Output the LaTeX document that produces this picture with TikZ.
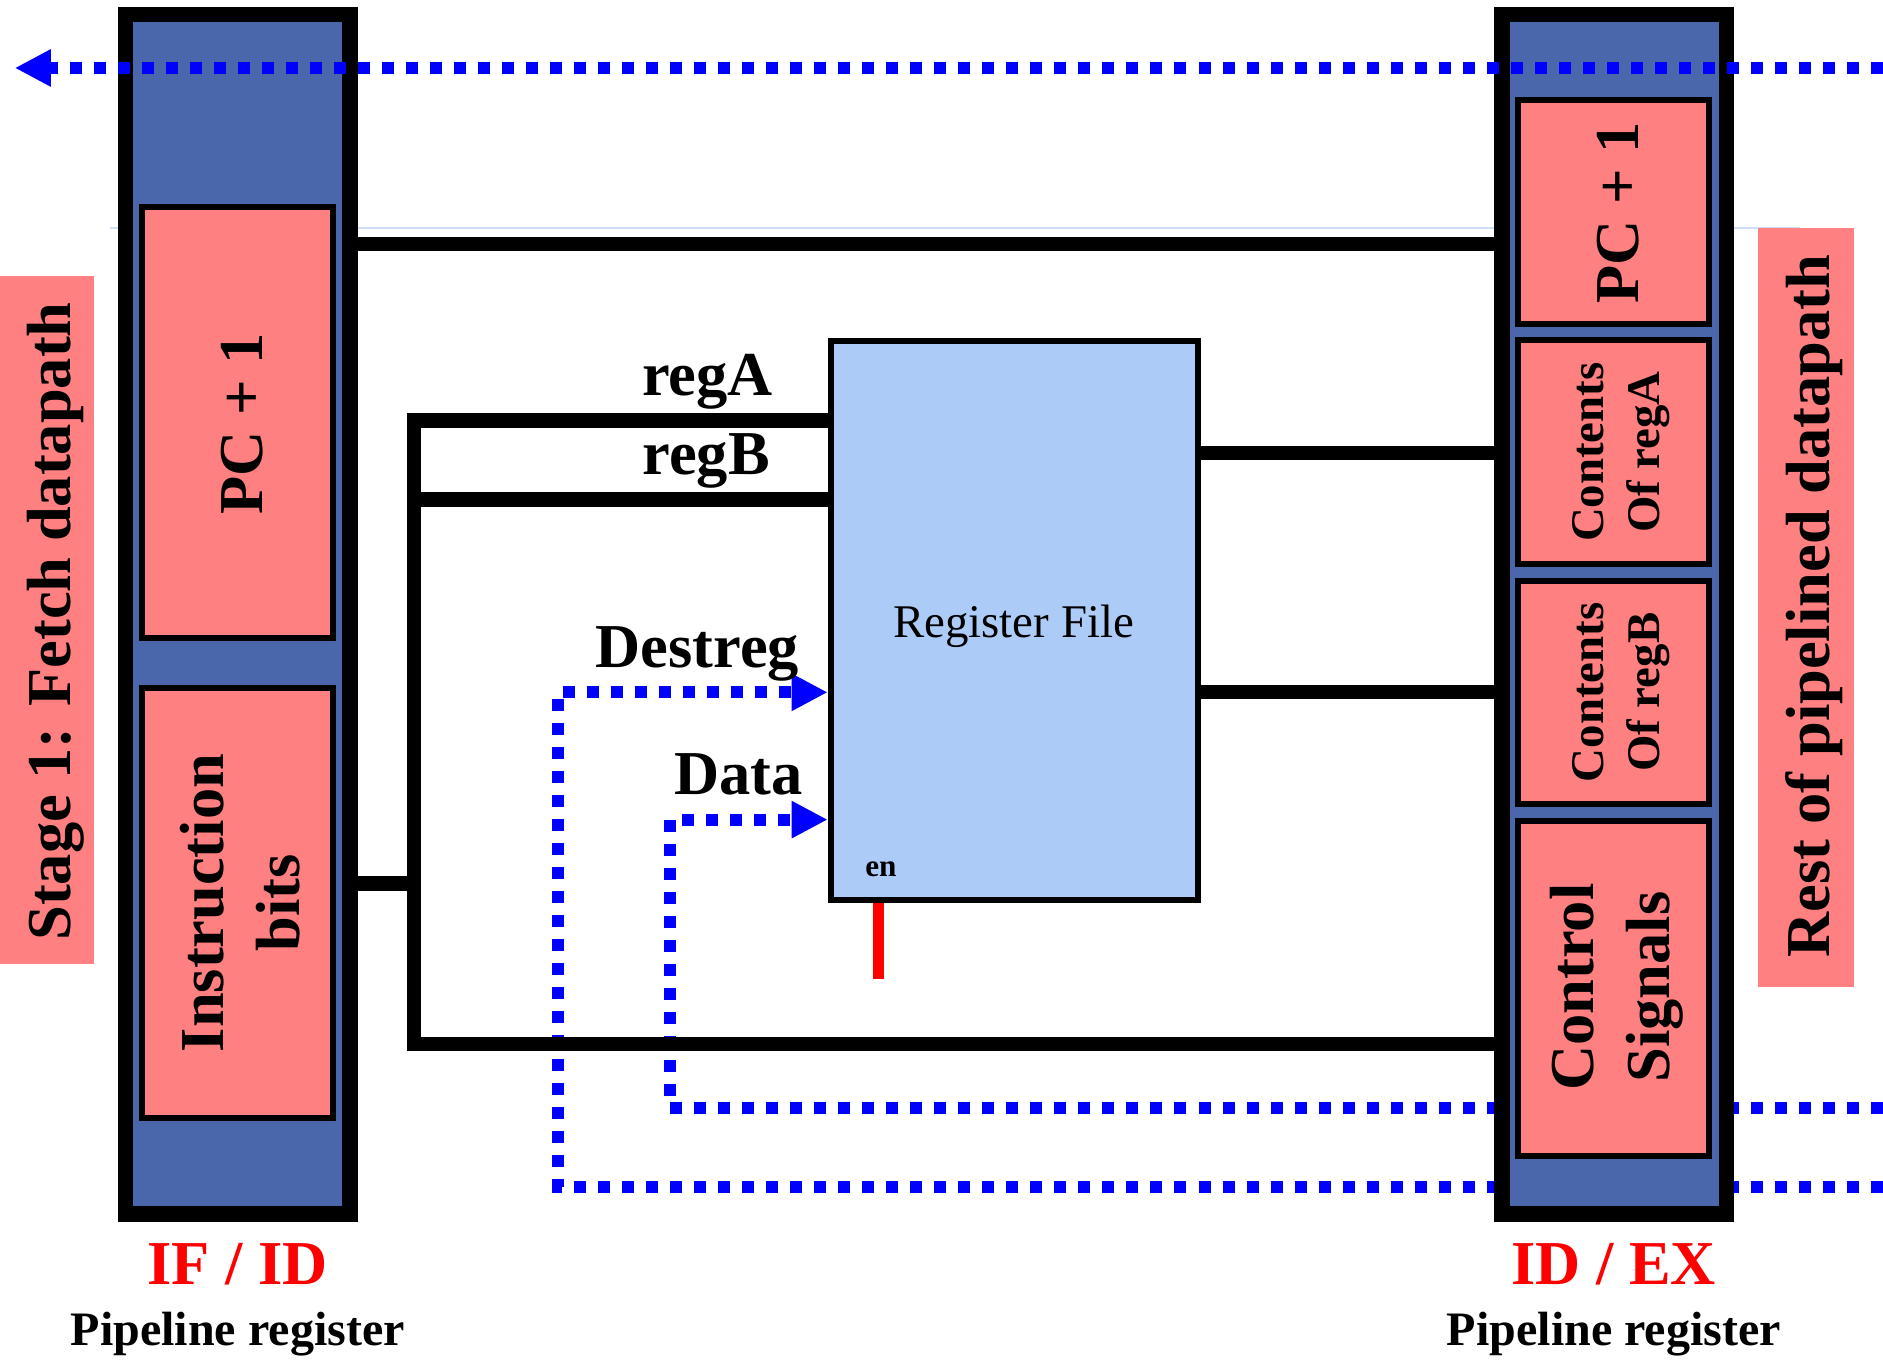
\documentclass[tikz,border=0pt]{standalone}
\usepackage{fontspec}
\setmainfont{Liberation Serif}
\usetikzlibrary{arrows.meta}
\definecolor{regblue}{RGB}{74,103,172}
\definecolor{pinkbox}{RGB}{255,128,128}
\definecolor{rfblue}{RGB}{173,203,247}
\definecolor{faintblue}{RGB}{205,222,245}
\pgfdeclarelayer{background}
\pgfsetlayers{background,main}
\begin{document}
\begin{tikzpicture}[x=0.5pt,y=-0.5pt,
  pipereg/.style={draw=black, fill=regblue, line width=6.5pt, minimum width=93.5pt, minimum height=499.5pt, inner sep=0pt},
  field/.style={draw=black, fill=pinkbox, line width=2.5pt, inner sep=0pt},
  sidebox/.style={fill=pinkbox, inner sep=0pt},
  regfile/.style={draw=black, fill=rfblue, line width=2.5pt, minimum width=152.85pt, minimum height=232.5pt, inner sep=0pt},
  wire/.style={draw=black, line width=6pt},
  dotwire/.style={draw=blue, line width=5pt, dash pattern=on 5pt off 5pt},
  tip/.style={-{Triangle[length=15pt,width=14.5pt]}},
  big/.style={inner sep=0pt, font=\fontsize{26pt}{31.5pt}\selectfont\bfseries},
  mid/.style={inner sep=0pt, font=\fontsize{20pt}{24pt}\selectfont\bfseries},
  small/.style={inner sep=0pt, font=\fontsize{19.5pt}{23pt}\selectfont\bfseries},
  plain/.style={inner sep=0pt, font=\fontsize{19.5pt}{23pt}\selectfont},
  vert/.style={rotate=90, align=center}
]
\useasboundingbox (0,0) rectangle (1568,1134);

% side labels
\node[sidebox, minimum width=39.2pt, minimum height=286.15pt] (stagebox) at (39.2,516.2) {};
\node[sidebox, minimum width=39.85pt, minimum height=316pt] (restbox) at (1503.9,506) {};

% pipeline registers
\node[pipereg] (ifid) at (198,511.5) {};
\node[pipereg] (idex) at (1344,511.5) {};

% fields of IF/ID
\node[field, minimum width=79.5pt, minimum height=179.25pt] (ifpc) at (198,351.8) {};
\node[field, minimum width=79.5pt, minimum height=179pt] (ifinst) at (198,752) {};

% fields of ID/EX
\node[field, minimum width=79.75pt, minimum height=93pt] (expc) at (1343.7,176.5) {};
\node[field, minimum width=79.75pt, minimum height=93pt] (exa) at (1343.7,376.5) {};
\node[field, minimum width=79.75pt, minimum height=93pt] (exb) at (1343.7,576.5) {};
\node[field, minimum width=79.75pt, minimum height=139.5pt] (exctl) at (1343.7,823) {};

% register file
\node[regfile] (rf) at (844.6,516.6) {};

% coordinates
\coordinate (jA) at (344.8,350.3);
\coordinate (jB) at (344.8,416);
\coordinate (jS) at (344.8,735.7);
\coordinate (jBot) at (344.8,869.3);
\coordinate (ytop) at (0,203.4);
\coordinate (youtA) at (0,377);
\coordinate (youtB) at (0,576);
\coordinate (dsrc) at (1568,988.5);
\coordinate (dcorner) at (464.5,576.5);
\coordinate (asrc) at (1568,922.5);
\coordinate (acorner) at (558,682.5);
\coordinate (tsrc) at (1568,56.6);
\coordinate (ttip) at (12.3,56.6);
\coordinate (enend) at (731.7,815);
\coordinate (fa) at (91.5,189.6);
\coordinate (fb) at (1499,189.6);

\begin{pgfonlayer}{background}
  \draw[faintblue, line width=0.8pt] (fa) -- (fb);
  \draw[dotwire, tip] (dsrc) -| (dcorner) -- (rf.west |- dcorner);
  \draw[dotwire, tip] (asrc) -| (acorner) -- (rf.west |- acorner);
\end{pgfonlayer}

% black wires
\draw[wire] (ifid.east |- ytop) -- (idex.west |- ytop);
\draw[wire] (rf.west |- jA) -- (jA) -- (jBot) -- (idex.west |- jBot);
\draw[wire] (rf.west |- jB) -- (jB);
\draw[wire] (ifid.east |- jS) -- (jS);
\draw[wire] (rf.east |- youtA) -- (idex.west |- youtA);
\draw[wire] (rf.east |- youtB) -- (idex.west |- youtB);

% enable
\draw[red, line width=4.5pt] (rf.south -| enend) -- (enend);

% top feedback arrow
\draw[dotwire, tip] (tsrc) -- (ttip);

% texts
\node[big, vert, anchor=base] (stagetxt) at (58.7,517.5) {Stage 1: Fetch datapath};
\node[big, vert, anchor=base] (resttxt) at (1523.6,505) {Rest of pipelined datapath};
\node[big, vert, anchor=base] (ifpctxt) at (219,353) {PC + 1};
\node[big, vert, anchor=center] (ifinsttxt) at (200,752) {Instruction\\bits};
\node[big, vert, anchor=base] (expctxt) at (1364,177.5) {PC + 1};
\node[small, vert, anchor=center] (exatxt) at (1350,376.5) {Contents\\Of regA};
\node[small, vert, anchor=center] (exbtxt) at (1350,576.5) {Contents\\Of regB};
\node[big, vert, anchor=center] (exctltxt) at (1346,822) {Control\\Signals};

\node[plain, anchor=base] (rftxt) at (844,530.5) {Register File};
\node[inner sep=0pt, font=\fontsize{13pt}{15pt}\selectfont\bfseries, anchor=base] (entxt) at (733.5,729.6) {en};

\node[big, anchor=base] (regatxt) at (589.3,329) {regA};
\node[big, anchor=base] (regbtxt) at (588,395) {regB};
\node[big, anchor=base] (desttxt) at (580.7,555.5) {Destreg};
\node[big, anchor=base] (datatxt) at (615.2,661.7) {Data};

\node[big, red, anchor=base] (ifidname) at (198,1070) {IF / ID};
\node[mid, anchor=base] (ifidsub) at (198,1120.8) {Pipeline register};
\node[big, red, anchor=base] (idexname) at (1343.7,1070) {ID / EX};
\node[mid, anchor=base] (idexsub) at (1343.9,1120.8) {Pipeline register};
\end{tikzpicture}
\end{document}
